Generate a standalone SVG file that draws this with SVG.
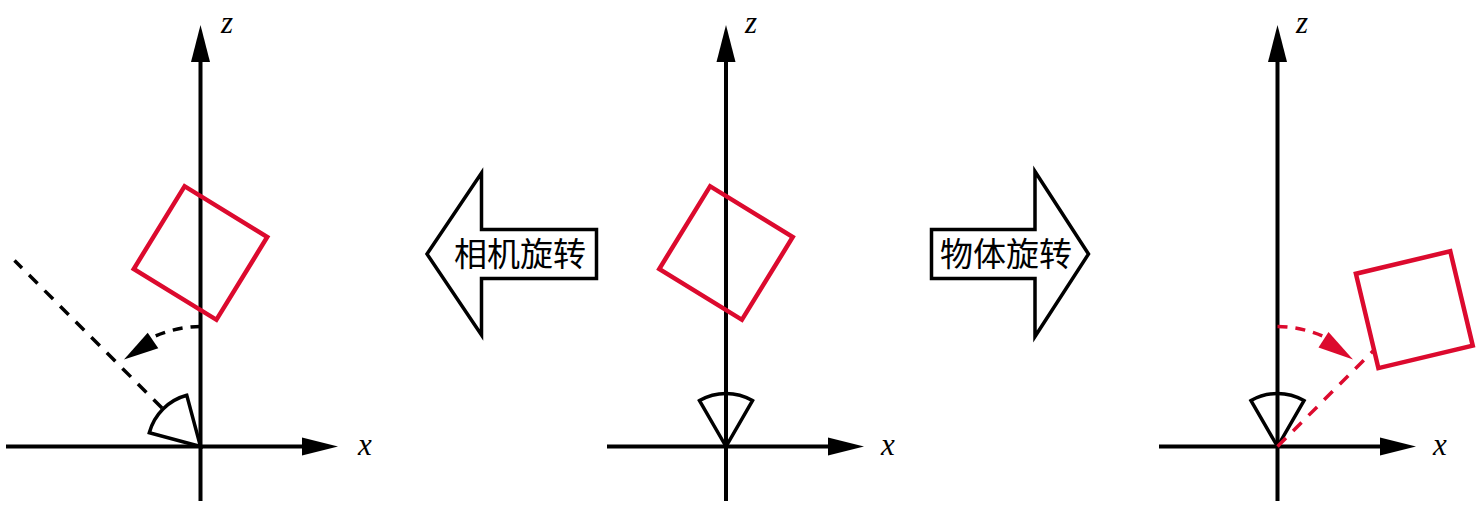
<svg xmlns="http://www.w3.org/2000/svg" width="1480" height="509" viewBox="0 0 1480 509">
  <style>
    .axis { stroke: #000; stroke-width: 4; fill: none; }
    .head { fill: #000; stroke: none; }
    .cam { stroke: #000; stroke-width: 3.5; fill: none; stroke-linejoin: miter; }
    .obj { stroke: #DC0A2E; stroke-width: 4.5; fill: none; }
    .dash { stroke: #000; stroke-width: 3.5; fill: none; stroke-dasharray: 12 10; }
    .rdash { stroke: #DC0A2E; stroke-width: 3.5; fill: none; stroke-dasharray: 12 10; }
    .arc { stroke-dasharray: 10 8; }
    .big { stroke: #000; stroke-width: 3.5; fill: #fff; stroke-linejoin: miter; }
    .lbl { font-family: "Liberation Serif", serif; font-style: italic; font-size: 31px; fill: #000; }
    .cjk { font-family: "Noto Sans CJK SC", sans-serif; font-size: 33px; fill: #000; text-anchor: middle; }
  </style>
  <defs>
    <path id="camera" d="M0,0 L-26.5,-45.9 A53 53 0 0 1 26.5,-45.9 Z"/>
    <rect id="square" x="-48.5" y="-48.5" width="97" height="97"/>
  </defs>

  <!-- Left diagram: camera rotation -->
  <g id="left-axes">
    <line class="axis" x1="200.5" y1="501" x2="200.5" y2="58"/>
    <polygon class="head" points="200.5,25 191,62 210,62"/>
    <line class="axis" x1="6" y1="446.5" x2="306" y2="446.5"/>
    <polygon class="head" points="338,446.5 302,437.5 302,455.5"/>
    <text class="lbl" x="221" y="33">z</text>
    <text class="lbl" x="358" y="455">x</text>
  </g>
  <g id="left-object">
    <use href="#square" class="obj" transform="translate(200.5,253) rotate(31.6)"/>
  </g>
  <g id="left-camera">
    <use href="#camera" class="cam" transform="translate(200.5,446.5) rotate(-45)"/>
  </g>

  <!-- Middle diagram -->
  <g id="middle-axes">
    <line class="axis" x1="726" y1="501" x2="726" y2="58"/>
    <polygon class="head" points="726,25 716.5,62 735.5,62"/>
    <line class="axis" x1="607" y1="446.5" x2="832" y2="446.5"/>
    <polygon class="head" points="864,446.5 828,437.5 828,455.5"/>
    <text class="lbl" x="745" y="33">z</text>
    <text class="lbl" x="881" y="455">x</text>
  </g>
  <g id="middle-object">
    <use href="#square" class="obj" transform="translate(726,253) rotate(31.6)"/>
  </g>
  <g id="middle-camera">
    <use href="#camera" class="cam" transform="translate(726,446.5)"/>
  </g>

  <!-- Right diagram: object rotation -->
  <g id="right-axes">
    <line class="axis" x1="1277.5" y1="501" x2="1277.5" y2="58"/>
    <polygon class="head" points="1277.5,25 1268,62 1287,62"/>
    <line class="axis" x1="1159" y1="446.5" x2="1384" y2="446.5"/>
    <polygon class="head" points="1416,446.5 1380,437.5 1380,455.5"/>
    <text class="lbl" x="1296" y="33">z</text>
    <text class="lbl" x="1433" y="455">x</text>
  </g>
  <g id="right-object">
    <use href="#square" class="obj" transform="translate(1277.5,446.5) rotate(45) translate(0,-193.5) rotate(31.6)"/>
  </g>
  <g id="right-camera">
    <use href="#camera" class="cam" transform="translate(1277.5,446.5)"/>
  </g>

  <!-- Big arrows -->
  <g id="camera-rotation-arrow">
    <polygon class="big" points="427,254 481.5,173 481.5,229.5 596.5,229.5 596.5,278.5 481.5,278.5 481.5,335"/>
    <text class="cjk" x="520" y="266">相机旋转</text>
  </g>
  <g id="object-rotation-arrow">
    <polygon class="big" points="1088.5,254 1035,171.5 1035,229.5 931.5,229.5 931.5,278.5 1035,278.5 1035,336.5"/>
    <text class="cjk" x="1006" y="266">物体旋转</text>
  </g>

  <!-- Connectors -->
  <g id="connectors">
    <line class="dash" x1="162" y1="408" x2="14.5" y2="260.5"/>
    <path class="dash arc" d="M200.5,326.5 A120 120 0 0 0 153,337"/>
    <polygon class="head" points="124,359.5 147.7,332.7 158.3,348.3"/>

    <line class="rdash" x1="1277.5" y1="446.5" x2="1374" y2="350"/>
    <path class="rdash arc" d="M1277.5,326.5 A120 120 0 0 1 1325,337"/>
    <polygon points="1353,359.5 1328.5,332 1318.5,347.5" fill="#DC0A2E"/>
  </g>
</svg>
